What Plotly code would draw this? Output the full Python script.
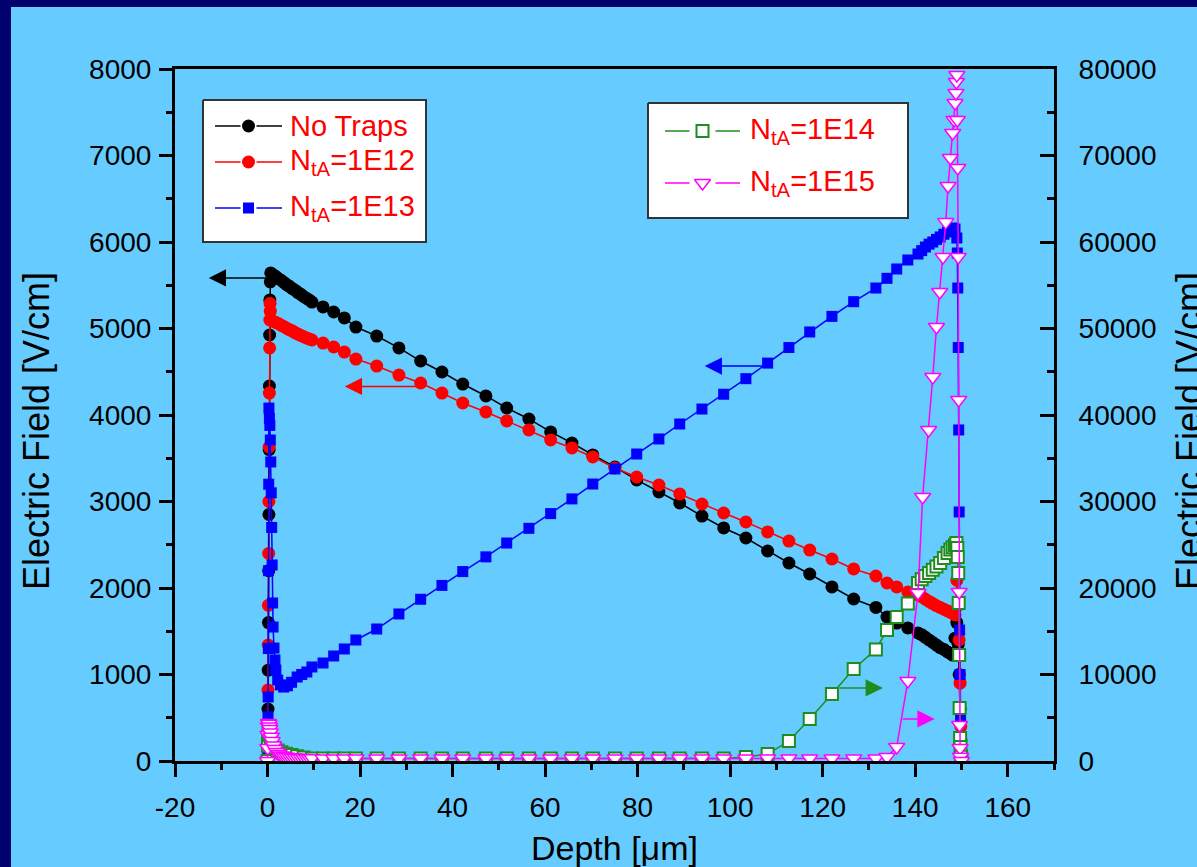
import plotly.graph_objects as go

# ---------------------------------------------------------------------------
# Figure geometry (pixels)
FIG_W, FIG_H = 1197, 867
L, R, T, B = 175, 1054, 69, 761


def px_x(p):
    return (p - L) / (R - L)


def px_y(p):
    return (B - p) / (B - T)


# ---------------------------------------------------------------------------
# Data: electric field vs depth
# Bulk depth positions shared by all five simulations [um]
DEPTH_BULK = [12.0, 14.3, 16.6, 19.1, 23.6, 28.4, 33.1, 37.7, 42.2, 47.2, 51.7,
              56.5, 61.2, 65.8, 70.3, 75.1, 79.8, 84.6, 89.1, 93.9, 98.6, 103.4,
              108.1, 112.7, 117.2, 122.0, 126.7, 131.5, 133.9, 136.0, 138.4, 140.6]

# --- No traps (left axis, V/cm)
NO_TRAPS_FRONT_X = [0.0, 0.05, 0.1, 0.15, 0.2, 0.25, 0.3, 0.35, 0.4, 0.45, 0.5, 0.6,
                    0.7, 1.2, 1.8, 2.4, 3.0, 3.6, 4.2, 4.8, 5.4, 6.0, 6.6, 7.2, 7.8,
                    8.4, 9.0, 9.6]
NO_TRAPS_FRONT_Y = [0, 250, 600, 1050, 1600, 2200, 2850, 3600, 4335, 4925, 5330, 5540,
                    5642, 5620, 5600, 5575, 5555, 5530, 5505, 5485, 5460, 5440, 5415,
                    5395, 5370, 5350, 5330, 5306]
NO_TRAPS_BULK = [5249, 5191, 5122, 5017, 4913, 4775, 4624, 4497, 4358, 4220, 4081,
                 3954, 3804, 3676, 3538, 3399, 3249, 3110, 2983, 2832, 2694, 2578,
                 2428, 2289, 2162, 2012, 1873, 1775, 1665, 1595, 1538, 1480]
NO_TRAPS_BACK_X = [141.4, 142.2, 143.0, 143.8, 144.6, 145.4, 146.2, 147.0, 147.6,
                   148.1, 148.6, 149.0, 149.3, 149.5, 149.7, 149.85, 150.0]
NO_TRAPS_BACK_Y = [1460, 1430, 1400, 1370, 1340, 1310, 1290, 1260, 1245, 1225, 1420,
                   1600, 1350, 1000, 600, 250, 0]

# --- N_tA = 1E12 (left axis)
E12_FRONT_X = [0.0, 0.05, 0.1, 0.15, 0.2, 0.25, 0.3, 0.35, 0.4, 0.45, 0.5, 0.55, 0.6,
               0.7, 1.2, 1.8, 2.4, 3.0, 3.6, 4.2, 4.8, 5.4, 6.0, 6.6, 7.2, 7.8, 8.4,
               9.0, 9.6]
E12_FRONT_Y = [0, 300, 820, 1340, 1800, 2400, 3000, 3630, 4254, 4775, 5098, 5290, 5200,
               5098, 5085, 5070, 5055, 5035, 5020, 5000, 4985, 4970, 4950, 4935, 4920,
               4905, 4890, 4880, 4867]
E12_BULK = [4832, 4786, 4728, 4647, 4566, 4462, 4370, 4254, 4139, 4035, 3931, 3827,
            3711, 3619, 3515, 3387, 3283, 3191, 3087, 2971, 2867, 2763, 2648, 2543,
            2439, 2335, 2220, 2139, 2058, 2012, 1954, 1920]
E12_BACK_X = [141.4, 142.2, 143.0, 143.8, 144.6, 145.4, 146.2, 147.0, 147.6, 148.1,
              148.6, 149.0, 149.3, 149.5, 149.7, 149.85, 150.0]
E12_BACK_Y = [1900, 1870, 1845, 1820, 1795, 1775, 1755, 1735, 1720, 1705, 1690, 2090,
              1800, 1400, 900, 400, 0]

# --- N_tA = 1E13 (left axis)
E13_FRONT_X = [0.0, 0.03, 0.06, 0.1, 0.14, 0.18, 0.22, 0.26, 0.3, 0.4, 0.5, 0.6, 0.7,
               0.8, 0.9, 1.0, 1.1, 1.2, 1.4, 1.6, 1.8, 2.2, 2.8, 3.5, 4.3, 5.2, 6.4,
               7.4, 8.5, 9.6]
E13_FRONT_Y = [0, 90, 250, 510, 740, 1300, 2200, 3200, 4080, 3960, 3880, 3711, 3457,
               3100, 2700, 2266, 1827, 1549, 1306, 1168, 1052, 936, 880, 855, 870, 910,
               971, 1000, 1029, 1087]
E13_BULK = [1133, 1214, 1295, 1399, 1526, 1700, 1870, 2030, 2190, 2360, 2520, 2690,
            2860, 3030, 3202, 3376, 3549, 3723, 3896, 4069, 4240, 4420, 4600, 4780,
            4960, 5140, 5310, 5468, 5580, 5688, 5792, 5861]
E13_BACK_X = [141.4, 142.2, 143.0, 143.8, 144.6, 145.4, 146.2, 147.0, 147.6, 148.1,
              148.6, 149.0, 149.1, 149.2, 149.3, 149.4, 149.5, 149.6, 149.7, 149.8,
              149.9, 150.0]
E13_BACK_Y = [5900, 5942, 5975, 6000, 6030, 6058, 6090, 6116, 6140, 6162, 6150, 6046,
              5873, 5468, 4780, 3827, 2879, 1514, 1000, 500, 200, 0]

# --- N_tA = 1E14 (right axis)
E14_FRONT_X = [0.0, 0.1, 0.2, 0.4, 0.7, 1.0, 1.5, 2.2, 3.0, 4.0, 5.2, 6.4, 7.8, 9.6]
E14_FRONT_Y = [0, 1800, 3200, 3000, 2400, 1900, 1500, 1200, 1000, 850, 700, 550, 400,
               300]
E14_BULK = [300, 300, 300, 300, 300, 300, 300, 300, 300, 300, 300, 300, 300, 300, 300,
            300, 300, 300, 300, 300, 300, 460, 800, 2310, 4860, 7750, 10640, 12900,
            15140, 16650, 18200, 20580]
E14_BACK_X = [141.4, 142.2, 143.0, 143.8, 144.6, 145.4, 146.2, 147.0, 147.6, 148.1,
              148.6, 148.9, 149.1, 149.2, 149.3, 149.4, 149.5, 149.6, 149.7, 149.8,
              149.9, 150.0]
E14_BACK_Y = [21000, 21400, 21730, 22100, 22500, 22890, 23470, 24050, 24450, 24700,
              24970, 25200, 24630, 23590, 21730, 18270, 12250, 6130, 2660, 1620, 500, 0]

# --- N_tA = 1E15 (right axis)
E15_FRONT_X = [0.0, 0.05, 0.1, 0.15, 0.2, 0.3, 0.4, 0.5, 0.6, 0.8, 1.0, 1.3, 1.6, 2.0,
               2.5, 3.0, 3.6, 4.2, 4.8, 5.4, 6.0, 6.6, 7.2, 7.8, 8.4, 9.0, 9.6]
E15_FRONT_Y = [0, 1500, 3000, 4000, 4400, 4300, 4000, 3700, 3300, 2800, 2300, 1800,
               1400, 1050, 800, 650, 550, 480, 430, 400, 380, 360, 350, 340, 330, 320,
               310]
E15_BULK = [300, 300, 300, 300, 300, 300, 300, 300, 300, 300, 300, 300, 300, 300, 300,
            300, 300, 300, 300, 300, 300, 300, 300, 300, 300, 300, 300, 300, 450, 1620,
            9250, 19420]
E15_BACK_X = [141.6, 142.9, 143.8, 144.6, 145.3, 146.0, 146.6, 147.1, 147.6, 148.1,
              148.4, 148.6, 148.8, 148.9, 149.0, 149.1, 149.2, 149.3, 149.4, 149.5,
              149.6, 149.7, 149.8, 150.0]
E15_BACK_Y = [30520, 38270, 44390, 50170, 54220, 58270, 62300, 66470, 69710, 72600,
              74100, 76070, 77220, 78500, 79300, 74100, 68550, 58270, 41730, 19540,
              4160, 1500, 500, 0]

# Axis ticks and their labels
X_TICKS = [-20, 0, 20, 40, 60, 80, 100, 120, 140, 160]
X_LABELS = ["-20", "0", "20", "40", "60", "80", "100", "120", "140", "160"]
Y_LEFT_TICKS = [0, 1000, 2000, 3000, 4000, 5000, 6000, 7000, 8000]
Y_LEFT_LABELS = ["0", "1000", "2000", "3000", "4000", "5000", "6000", "7000", "8000"]
Y_RIGHT_TICKS = [0, 10000, 20000, 30000, 40000, 50000, 60000, 70000, 80000]
Y_RIGHT_LABELS = ["0", "10000", "20000", "30000", "40000", "50000", "60000", "70000",
                  "80000"]

# ---------------------------------------------------------------------------
BG = "#66ccff"
NAVY = "#00006e"
GREEN = "#1f8c1f"
MAGENTA = "#ff00ff"
FONT = "Arial, Liberation Sans, Helvetica, sans-serif"


def series(front_x, front_y, bulk, back_x, back_y):
    return front_x + DEPTH_BULK + back_x, front_y + bulk + back_y


MK_BLACK = dict(symbol="circle", size=13, color="black")
MK_RED = dict(symbol="circle", size=13, color="#ff0000")
MK_BLUE = dict(symbol="square", size=11, color="#0000ff")
MK_GREEN = dict(symbol="square", size=12, color="white", line=dict(color=GREEN, width=2))
MK_MAGENTA = dict(symbol="triangle-down", size=14, color="white",
                  line=dict(color=MAGENTA, width=1.5))

fig = go.Figure()

specs = [
    ("No Traps", (NO_TRAPS_FRONT_X, NO_TRAPS_FRONT_Y, NO_TRAPS_BULK, NO_TRAPS_BACK_X, NO_TRAPS_BACK_Y),
     "black", MK_BLACK, "y"),
    ("N_tA=1E12", (E12_FRONT_X, E12_FRONT_Y, E12_BULK, E12_BACK_X, E12_BACK_Y),
     "#ff0000", MK_RED, "y"),
    ("N_tA=1E13", (E13_FRONT_X, E13_FRONT_Y, E13_BULK, E13_BACK_X, E13_BACK_Y),
     "#0000ff", MK_BLUE, "y"),
    ("N_tA=1E14", (E14_FRONT_X, E14_FRONT_Y, E14_BULK, E14_BACK_X, E14_BACK_Y),
     GREEN, MK_GREEN, "y2"),
    ("N_tA=1E15", (E15_FRONT_X, E15_FRONT_Y, E15_BULK, E15_BACK_X, E15_BACK_Y),
     MAGENTA, MK_MAGENTA, "y2"),
]

for name, parts, lc, mk, yax in specs:
    xs, ys = series(*parts)
    fig.add_trace(go.Scatter(x=xs, y=ys, name=name, mode="lines+markers",
                             line=dict(color=lc, width=1.5), marker=mk,
                             yaxis=yax, showlegend=False, cliponaxis=True))

# ---------------------------------------------------------------------------
# Legend panels, drawn on a hidden overlay whose units are screen pixels
LEG_BOX_1 = (203, 100, 426, 242)
LEG_BOX_2 = (648, 103, 908, 218)
LEG_ROWS_1 = [("No Traps", 126, "black", MK_BLACK),
              ("N<sub>tA</sub>=1E12", 162, "#ff0000", MK_RED),
              ("N<sub>tA</sub>=1E13", 208, "#0000ff", MK_BLUE)]
LEG_ROWS_2 = [("N<sub>tA</sub>=1E14", 131, GREEN, MK_GREEN),
              ("N<sub>tA</sub>=1E15", 183, MAGENTA, MK_MAGENTA)]

annotations = []
shapes = []


def legend_panel(box, rows, x_line0, x_line1, gap, x_text):
    x0, y0, x1, y1 = box
    fig.add_trace(go.Scatter(x=[x0, x1, x1, x0, x0], y=[y0, y0, y1, y1, y0],
                             mode="lines", fill="toself", fillcolor="white",
                             line=dict(color="#333333", width=2),
                             xaxis="x3", yaxis="y3", showlegend=False, hoverinfo="skip"))
    xm = 0.5 * (x_line0 + x_line1)
    for label, yrow, lc, mk in rows:
        # key line broken around the symbol
        fig.add_trace(go.Scatter(x=[x_line0, xm - gap, None, xm + gap, x_line1],
                                 y=[yrow, yrow, None, yrow, yrow],
                                 mode="lines", line=dict(color=lc, width=1.5),
                                 connectgaps=False, xaxis="x3", yaxis="y3",
                                 showlegend=False, hoverinfo="skip"))
        fig.add_trace(go.Scatter(x=[xm], y=[yrow], mode="markers", marker=mk,
                                 xaxis="x3", yaxis="y3", showlegend=False, hoverinfo="skip"))
        annotations.append(dict(xref="paper", yref="paper", x=px_x(x_text), y=px_y(yrow),
                                xanchor="left", yanchor="middle", showarrow=False,
                                text=label, font=dict(family=FONT, size=29, color="#ff0000")))


legend_panel(LEG_BOX_1, LEG_ROWS_1, 215, 282, 8, 288)
legend_panel(LEG_BOX_2, LEG_ROWS_2, 665, 740, 13, 748)

# direction arrows (tail on the curve, head towards its axis)
ARROWS = [
    # (tail_x, head_x, level, yref, color)
    (-0.1, -12.7, 5584, "y", "black"),
    (33.1, 16.7, 4330, "y", "#ff0000"),
    (108.5, 94.5, 4566, "y", "#0000ff"),
    (123.3, 133.0, 8440, "y2", GREEN),
    (137.0, 144.2, 4860, "y2", MAGENTA),
]
for tx, hx, lvl, yr, col in ARROWS:
    annotations.append(dict(x=hx, y=lvl, ax=tx, ay=lvl, xref="x", yref=yr,
                            axref="x", ayref=yr, text="", showarrow=True,
                            arrowhead=2, arrowsize=2.3, arrowwidth=1.5,
                            arrowcolor=col, standoff=0, startstandoff=0))

# axis titles
TITLE_FONT_X = dict(family=FONT, size=34, color="black")
TITLE_FONT_Y = dict(family=FONT, size=36, color="black")
annotations.append(dict(xref="paper", yref="paper", x=px_x(614), y=px_y(848),
                        text="Depth [\u03bcm]", showarrow=False, font=TITLE_FONT_X,
                        xanchor="center", yanchor="middle"))
annotations.append(dict(xref="paper", yref="paper", x=px_x(36), y=px_y(431),
                        text="Electric Field [V/cm]", showarrow=False, textangle=-90,
                        font=TITLE_FONT_Y, xanchor="center", yanchor="middle"))
annotations.append(dict(xref="paper", yref="paper", x=px_x(1189), y=px_y(431),
                        text="Electric Field [V/cm]", showarrow=False, textangle=-90,
                        font=TITLE_FONT_Y, xanchor="center", yanchor="middle"))

# navy frame strips along the left and top edges
shapes.append(dict(type="rect", xref="paper", yref="paper", x0=px_x(-5), x1=px_x(11),
                   y0=px_y(FIG_H + 5), y1=px_y(-5), fillcolor=NAVY, line=dict(width=0),
                   layer="below"))
shapes.append(dict(type="rect", xref="paper", yref="paper", x0=px_x(-5), x1=px_x(FIG_W + 5),
                   y0=px_y(7), y1=px_y(-5), fillcolor=NAVY, line=dict(width=0),
                   layer="below"))

tickfont = dict(family=FONT, size=28, color="black")

fig.update_layout(
    width=FIG_W, height=FIG_H, autosize=False,
    margin=dict(l=L, r=FIG_W - R, t=T, b=FIG_H - B, pad=0),
    paper_bgcolor=BG, plot_bgcolor=BG,
    showlegend=False,
    xaxis=dict(range=[-20, 170], tickvals=X_TICKS, ticktext=X_LABELS, ticks="outside",
               ticklen=13, tickwidth=2.5, tickcolor="black", showline=True, linewidth=3,
               linecolor="black", mirror=True, showgrid=False, zeroline=False,
               tickfont=tickfont, ticklabelstandoff=6,
               minor=dict(dtick=10, tick0=0, ticks="outside", ticklen=6, tickwidth=2.5,
                          tickcolor="black", showgrid=False)),
    xaxis2=dict(range=[-20, 170], overlaying="x", side="top", tickvals=X_TICKS,
                ticks="inside", ticklen=11, tickwidth=2.5, tickcolor="black",
                showticklabels=False, showline=False, showgrid=False, zeroline=False,
                minor=dict(dtick=10, tick0=0, ticks="inside", ticklen=6, tickwidth=2.5,
                           tickcolor="black", showgrid=False)),
    yaxis=dict(range=[0, 8000], tickvals=Y_LEFT_TICKS, ticktext=Y_LEFT_LABELS,
               ticks="outside", ticklen=13, tickwidth=2.5, tickcolor="black",
               showline=True, linewidth=3, linecolor="black", showgrid=False,
               zeroline=False, tickfont=tickfont, ticklabelstandoff=2,
               minor=dict(dtick=500, tick0=0, ticks="outside", ticklen=6, tickwidth=2.5,
                          tickcolor="black", showgrid=False)),
    yaxis2=dict(range=[0, 80000], overlaying="y", side="right", tickvals=Y_RIGHT_TICKS,
                ticktext=Y_RIGHT_LABELS, ticks="inside", ticklen=14, tickwidth=2.5,
                tickcolor="black", showline=True, linewidth=3, linecolor="black",
                showgrid=False, zeroline=False, tickfont=tickfont, ticklabelstandoff=16,
                minor=dict(dtick=5000, tick0=0, ticks="inside", ticklen=7, tickwidth=2.5,
                           tickcolor="black", showgrid=False)),
    xaxis3=dict(range=[L, R], overlaying="x", visible=False, fixedrange=True),
    yaxis3=dict(range=[B, T], overlaying="y", visible=False, fixedrange=True),
    shapes=shapes,
    annotations=annotations,
)

fig.write_html("out.html")
